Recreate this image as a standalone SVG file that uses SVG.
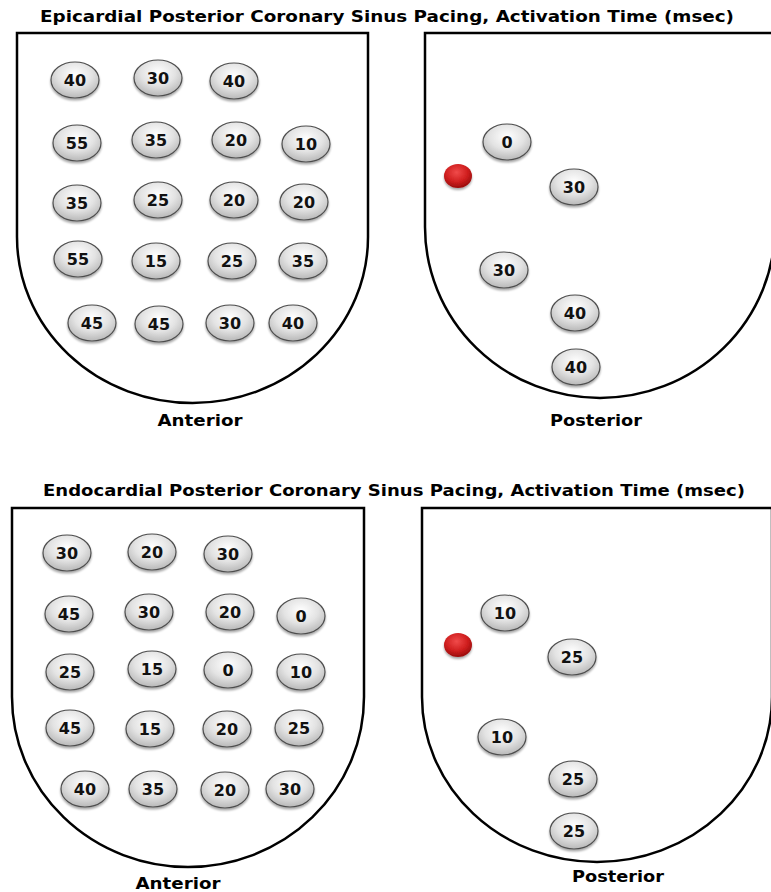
<svg xmlns="http://www.w3.org/2000/svg" width="771" height="892" viewBox="0 0 771 892">
<defs>
<radialGradient id="gNode" cx="50%" cy="35%" r="65%">
<stop offset="0" stop-color="#ffffff"/>
<stop offset="0.55" stop-color="#e3e3e3"/>
<stop offset="1" stop-color="#b8b8b8"/>
</radialGradient>
<radialGradient id="gRed" cx="45%" cy="35%" r="65%">
<stop offset="0" stop-color="#f04a4a"/>
<stop offset="0.6" stop-color="#d01f1f"/>
<stop offset="1" stop-color="#9a0c0c"/>
</radialGradient>
<filter id="sh" x="-30%" y="-30%" width="160%" height="170%">
<feDropShadow dx="0" dy="2" stdDeviation="1.2" flood-color="#000" flood-opacity="0.35"/>
</filter>
</defs>
<style>
.shield{fill:#fff;stroke:#000;stroke-width:2.5}
.node ellipse{fill:url(#gNode);stroke:#4d4d4d;stroke-width:1.2;filter:url(#sh)}
.node text{font-family:"DejaVu Sans","Liberation Sans",sans-serif;font-weight:bold;font-size:16px;fill:#111;text-anchor:middle}
.pace{fill:url(#gRed);filter:url(#sh)}
.title{font-family:"DejaVu Sans","Liberation Sans",sans-serif;font-weight:bold;font-size:15px;fill:#000;text-anchor:middle}
.lbl{font-family:"DejaVu Sans","Liberation Sans",sans-serif;font-weight:bold;font-size:15px;fill:#000;text-anchor:middle}
</style>
<rect width="771" height="892" fill="#fff"/>

<text class="title" x="387" y="22" textLength="694" lengthAdjust="spacingAndGlyphs">Epicardial Posterior Coronary Sinus Pacing, Activation Time (msec)</text>
<text class="title" x="394" y="496" textLength="702" lengthAdjust="spacingAndGlyphs">Endocardial Posterior Coronary Sinus Pacing, Activation Time (msec)</text>

<g id="epi-anterior">
<path class="shield" d="M17,33 H368 V237 A175.5,166 0 0 1 17,237 Z"/>
<text class="lbl" x="200" y="426" textLength="85" lengthAdjust="spacingAndGlyphs">Anterior</text>
</g>
<g id="epi-posterior">
<path class="shield" d="M425,33 H775 V227 A175,171 0 0 1 425,227 Z"/>
<text class="lbl" x="596" y="426" textLength="92" lengthAdjust="spacingAndGlyphs">Posterior</text>
</g>
<g id="endo-anterior">
<path class="shield" d="M12,508 H364 V697 A176,170 0 0 1 12,697 Z"/>
<text class="lbl" x="178" y="889" textLength="85" lengthAdjust="spacingAndGlyphs">Anterior</text>
</g>
<g id="endo-posterior">
<path class="shield" d="M422,508 H772 V697 A175,165 0 0 1 422,697 Z"/>
<text class="lbl" x="618" y="882" textLength="92" lengthAdjust="spacingAndGlyphs">Posterior</text>
</g>

<!-- Epicardial anterior nodes -->
<g id="ea1" class="node"><ellipse cx="75" cy="80" rx="24" ry="18"/><text x="75" y="86">40</text></g>
<g id="ea2" class="node"><ellipse cx="158" cy="78" rx="24" ry="18"/><text x="158" y="84">30</text></g>
<g id="ea3" class="node"><ellipse cx="234" cy="81" rx="24" ry="18"/><text x="234" y="87">40</text></g>
<g id="ea4" class="node"><ellipse cx="77" cy="143" rx="24" ry="18"/><text x="77" y="149">55</text></g>
<g id="ea5" class="node"><ellipse cx="156" cy="140" rx="24" ry="18"/><text x="156" y="146">35</text></g>
<g id="ea6" class="node"><ellipse cx="236" cy="140" rx="24" ry="18"/><text x="236" y="146">20</text></g>
<g id="ea7" class="node"><ellipse cx="306" cy="144" rx="24" ry="18"/><text x="306" y="150">10</text></g>
<g id="ea8" class="node"><ellipse cx="77" cy="203" rx="24" ry="18"/><text x="77" y="209">35</text></g>
<g id="ea9" class="node"><ellipse cx="158" cy="200" rx="24" ry="18"/><text x="158" y="206">25</text></g>
<g id="ea10" class="node"><ellipse cx="234" cy="200" rx="24" ry="18"/><text x="234" y="206">20</text></g>
<g id="ea11" class="node"><ellipse cx="304" cy="202" rx="24" ry="18"/><text x="304" y="208">20</text></g>
<g id="ea12" class="node"><ellipse cx="78" cy="259" rx="24" ry="18"/><text x="78" y="265">55</text></g>
<g id="ea13" class="node"><ellipse cx="156" cy="261" rx="24" ry="18"/><text x="156" y="267">15</text></g>
<g id="ea14" class="node"><ellipse cx="232" cy="261" rx="24" ry="18"/><text x="232" y="267">25</text></g>
<g id="ea15" class="node"><ellipse cx="303" cy="261" rx="24" ry="18"/><text x="303" y="267">35</text></g>
<g id="ea16" class="node"><ellipse cx="92" cy="323" rx="24" ry="18"/><text x="92" y="329">45</text></g>
<g id="ea17" class="node"><ellipse cx="159" cy="324" rx="24" ry="18"/><text x="159" y="330">45</text></g>
<g id="ea18" class="node"><ellipse cx="230" cy="323" rx="24" ry="18"/><text x="230" y="329">30</text></g>
<g id="ea19" class="node"><ellipse cx="293" cy="323" rx="24" ry="18"/><text x="293" y="329">40</text></g>

<!-- Epicardial posterior nodes -->
<g id="ep-pace"><ellipse class="pace" cx="458" cy="176" rx="14" ry="12"/></g>
<g id="ep1" class="node"><ellipse cx="507" cy="142" rx="24" ry="18"/><text x="507" y="148">0</text></g>
<g id="ep2" class="node"><ellipse cx="574" cy="187" rx="24" ry="18"/><text x="574" y="193">30</text></g>
<g id="ep3" class="node"><ellipse cx="504" cy="270" rx="24" ry="18"/><text x="504" y="276">30</text></g>
<g id="ep4" class="node"><ellipse cx="575" cy="313" rx="24" ry="18"/><text x="575" y="319">40</text></g>
<g id="ep5" class="node"><ellipse cx="576" cy="367" rx="24" ry="18"/><text x="576" y="373">40</text></g>

<!-- Endocardial anterior nodes -->
<g id="na1" class="node"><ellipse cx="67" cy="553" rx="24" ry="18"/><text x="67" y="559">30</text></g>
<g id="na2" class="node"><ellipse cx="152" cy="552" rx="24" ry="18"/><text x="152" y="558">20</text></g>
<g id="na3" class="node"><ellipse cx="228" cy="554" rx="24" ry="18"/><text x="228" y="560">30</text></g>
<g id="na4" class="node"><ellipse cx="69" cy="614" rx="24" ry="18"/><text x="69" y="620">45</text></g>
<g id="na5" class="node"><ellipse cx="149" cy="612" rx="24" ry="18"/><text x="149" y="618">30</text></g>
<g id="na6" class="node"><ellipse cx="230" cy="612" rx="24" ry="18"/><text x="230" y="618">20</text></g>
<g id="na7" class="node"><ellipse cx="301" cy="616" rx="24" ry="18"/><text x="301" y="622">0</text></g>
<g id="na8" class="node"><ellipse cx="70" cy="672" rx="24" ry="18"/><text x="70" y="678">25</text></g>
<g id="na9" class="node"><ellipse cx="152" cy="669" rx="24" ry="18"/><text x="152" y="675">15</text></g>
<g id="na10" class="node"><ellipse cx="228" cy="670" rx="24" ry="18"/><text x="228" y="676">0</text></g>
<g id="na11" class="node"><ellipse cx="301" cy="672" rx="24" ry="18"/><text x="301" y="678">10</text></g>
<g id="na12" class="node"><ellipse cx="70" cy="728" rx="24" ry="18"/><text x="70" y="734">45</text></g>
<g id="na13" class="node"><ellipse cx="150" cy="729" rx="24" ry="18"/><text x="150" y="735">15</text></g>
<g id="na14" class="node"><ellipse cx="227" cy="729" rx="24" ry="18"/><text x="227" y="735">20</text></g>
<g id="na15" class="node"><ellipse cx="299" cy="728" rx="24" ry="18"/><text x="299" y="734">25</text></g>
<g id="na16" class="node"><ellipse cx="85" cy="789" rx="24" ry="18"/><text x="85" y="795">40</text></g>
<g id="na17" class="node"><ellipse cx="153" cy="789" rx="24" ry="18"/><text x="153" y="795">35</text></g>
<g id="na18" class="node"><ellipse cx="225" cy="790" rx="24" ry="18"/><text x="225" y="796">20</text></g>
<g id="na19" class="node"><ellipse cx="290" cy="789" rx="24" ry="18"/><text x="290" y="795">30</text></g>

<!-- Endocardial posterior nodes -->
<g id="np-pace"><ellipse class="pace" cx="458" cy="645" rx="14" ry="12"/></g>
<g id="np1" class="node"><ellipse cx="505" cy="613" rx="24" ry="18"/><text x="505" y="619">10</text></g>
<g id="np2" class="node"><ellipse cx="572" cy="657" rx="24" ry="18"/><text x="572" y="663">25</text></g>
<g id="np3" class="node"><ellipse cx="502" cy="737" rx="24" ry="18"/><text x="502" y="743">10</text></g>
<g id="np4" class="node"><ellipse cx="573" cy="779" rx="24" ry="18"/><text x="573" y="785">25</text></g>
<g id="np5" class="node"><ellipse cx="574" cy="831" rx="24" ry="18"/><text x="574" y="837">25</text></g>

<g id="connectors"/>
</svg>
